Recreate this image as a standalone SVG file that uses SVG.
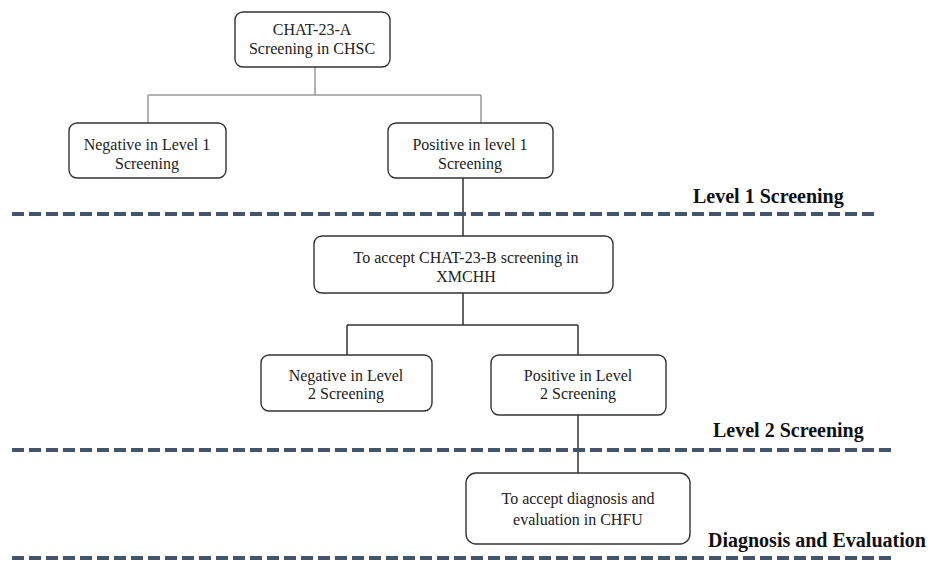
<svg xmlns="http://www.w3.org/2000/svg" width="932" height="562" viewBox="0 0 932 562">
<style>
.box{fill:#fff;stroke:#333;stroke-width:1.4}
.t{font-family:"Liberation Serif","Times New Roman",serif;font-size:16px;fill:#222;text-anchor:middle}
.h{font-family:"Liberation Serif","Times New Roman",serif;font-size:20px;font-weight:bold;fill:#111}
.dash{stroke:#44546a;stroke-width:4;stroke-dasharray:12 5;fill:none}
.cg{stroke:#999;stroke-width:1.5;fill:none}
.cd{stroke:#333;stroke-width:1.5;fill:none}
</style>
<rect width="932" height="562" fill="#fff"/>
<g id="connectors">
<path class="cg" d="M315 67V95M148 95H481M148 95V123M481 95V123"/>
<path class="cd" d="M463 177V236M463 293V325M347 325H578M347 325V355M578 325V355M578 415V473"/>
</g>
<g id="dividers">
<line class="dash" x1="12" y1="214" x2="878" y2="214"/>
<line class="dash" x1="12" y1="450" x2="892" y2="450"/>
<line class="dash" x1="12" y1="558" x2="892" y2="558"/>
</g>
<g id="n1"><rect class="box" x="235" y="12" width="155" height="55" rx="8"/>
<text class="t" x="312" y="35">CHAT-23-A</text><text class="t" x="312" y="54">Screening in CHSC</text></g>
<g id="n2"><rect class="box" x="69" y="123" width="157" height="55" rx="8"/>
<text class="t" x="147" y="150">Negative in Level 1</text><text class="t" x="147" y="169">Screening</text></g>
<g id="n3"><rect class="box" x="388" y="123" width="165" height="55" rx="8"/>
<text class="t" x="470" y="150">Positive in level 1</text><text class="t" x="470" y="169">Screening</text></g>
<g id="n4"><rect class="box" x="314" y="236" width="299" height="57" rx="8"/>
<text class="t" x="466" y="263">To accept CHAT-23-B screening in</text><text class="t" x="466" y="282">XMCHH</text></g>
<g id="n5"><rect class="box" x="261" y="355" width="171" height="56" rx="8"/>
<text class="t" x="346" y="381">Negative in Level</text><text class="t" x="346" y="399">2 Screening</text></g>
<g id="n6"><rect class="box" x="491" y="355" width="175" height="60" rx="8"/>
<text class="t" x="578" y="381">Positive in Level</text><text class="t" x="578" y="399">2 Screening</text></g>
<g id="n7"><rect class="box" x="466" y="473" width="224" height="71" rx="10"/>
<text class="t" x="578" y="504">To accept diagnosis and</text><text class="t" x="578" y="525">evaluation in CHFU</text></g>
<g id="labels">
<text class="h" x="693" y="203">Level 1 Screening</text>
<text class="h" x="713" y="437">Level 2 Screening</text>
<text class="h" x="708" y="547">Diagnosis and Evaluation</text>
</g>
</svg>
